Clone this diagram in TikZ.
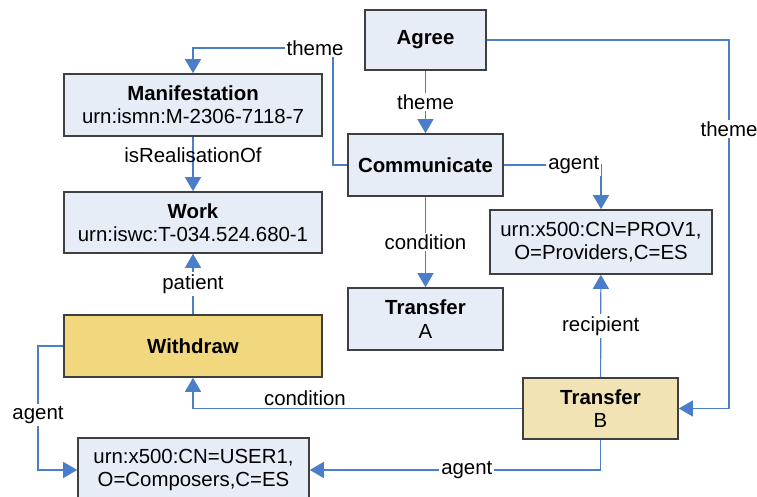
\documentclass[tikz,border=0pt]{standalone}
\usepackage{fontspec}
\setmainfont{Liberation Sans}
\usetikzlibrary{arrows.meta}
\definecolor{boxblue}{HTML}{E6EDF7}
\definecolor{boxgold}{HTML}{F1D77D}
\definecolor{boxsand}{HTML}{F2E3B5}
\definecolor{linkblue}{HTML}{4A7EC8}
\definecolor{boxline}{HTML}{3F3F3F}
\tikzset{
  box/.style={draw=boxline,line width=0.8pt,fill=boxblue,align=center,inner sep=0pt,
    font=\fontsize{10.2}{11.7}\selectfont},
  link/.style={draw=linkblue,line width=0.6pt,-{Triangle[width=8pt,length=7pt]}},
  lbl/.style={fill=white,inner sep=1pt,text=black,font=\fontsize{10.2}{11.7}\selectfont}
}
\begin{document}
\begin{tikzpicture}[x=0.5pt,y=-0.5pt]
\useasboundingbox (0,0) rectangle (757,497);
% event boxes
\node[box,minimum width=60.5pt,minimum height=30pt](agree) at (425.5,40){\textbf{Agree}};
\node[box,minimum width=77.5pt,minimum height=31pt](comm) at (425.5,165){\textbf{Communicate}};
\node[box,minimum width=77.5pt,minimum height=31pt](tra) at (425.5,319){\textbf{Transfer}\\A};
\node[box,fill=boxsand,minimum width=77.5pt,minimum height=30.5pt](trb) at (600.5,408.5){\textbf{Transfer}\\B};
\node[box,fill=boxgold,minimum width=129pt,minimum height=31pt](withdraw) at (193,346){\textbf{Withdraw}};
% entity boxes
\node[box,minimum width=129pt,minimum height=31pt](manif) at (193,105){\textbf{Manifestation}\\urn:ismn:M-2306-7118-7};
\node[box,minimum width=129pt,minimum height=30.5pt](work) at (193,222.5){\textbf{Work}\\urn:iswc:T-034.524.680-1};
\node[box,minimum width=111pt,minimum height=32pt](prov) at (601,242){urn:x500:CN=PROV1,\\O=Providers,C=ES};
\node[box,minimum width=115.5pt,minimum height=32pt](user) at (193.5,470){urn:x500:CN=USER1,\\O=Composers,C=ES};
% bends
\coordinate (tl) at (333,48);
\coordinate (tr) at (729,129);
\coordinate (al) at (38,415);
% links
\draw[link](agree)--(comm) node[lbl,midway]{theme};
\draw[link](comm.west)-|(tl)-|(manif.north);
\node[lbl] at (315,48){theme};
\draw[link](comm.east)-|(prov.north) node[lbl,pos=0.36]{agent};
\draw[link](comm)--(tra) node[lbl,midway]{condition};
\draw[link](manif)--(work) node[lbl,fill=none,pos=0.34]{isRealisationOf};
\draw[link](withdraw)--(work) node[lbl,midway]{patient};
\draw[link](trb)--(prov) node[lbl,midway]{recipient};
\draw[link](agree.east)-|(tr) node[lbl]{theme} |-(trb.east);
\draw[link](trb.west)-|(withdraw.south) node[lbl,fill=none,above,pos=0.33]{condition};
\draw[link](withdraw.west)-|(al) node[lbl]{agent} |-(user.west);
\draw[link](trb.south)|-(user.east) node[lbl,pos=0.73]{agent};
\end{tikzpicture}
\end{document}
